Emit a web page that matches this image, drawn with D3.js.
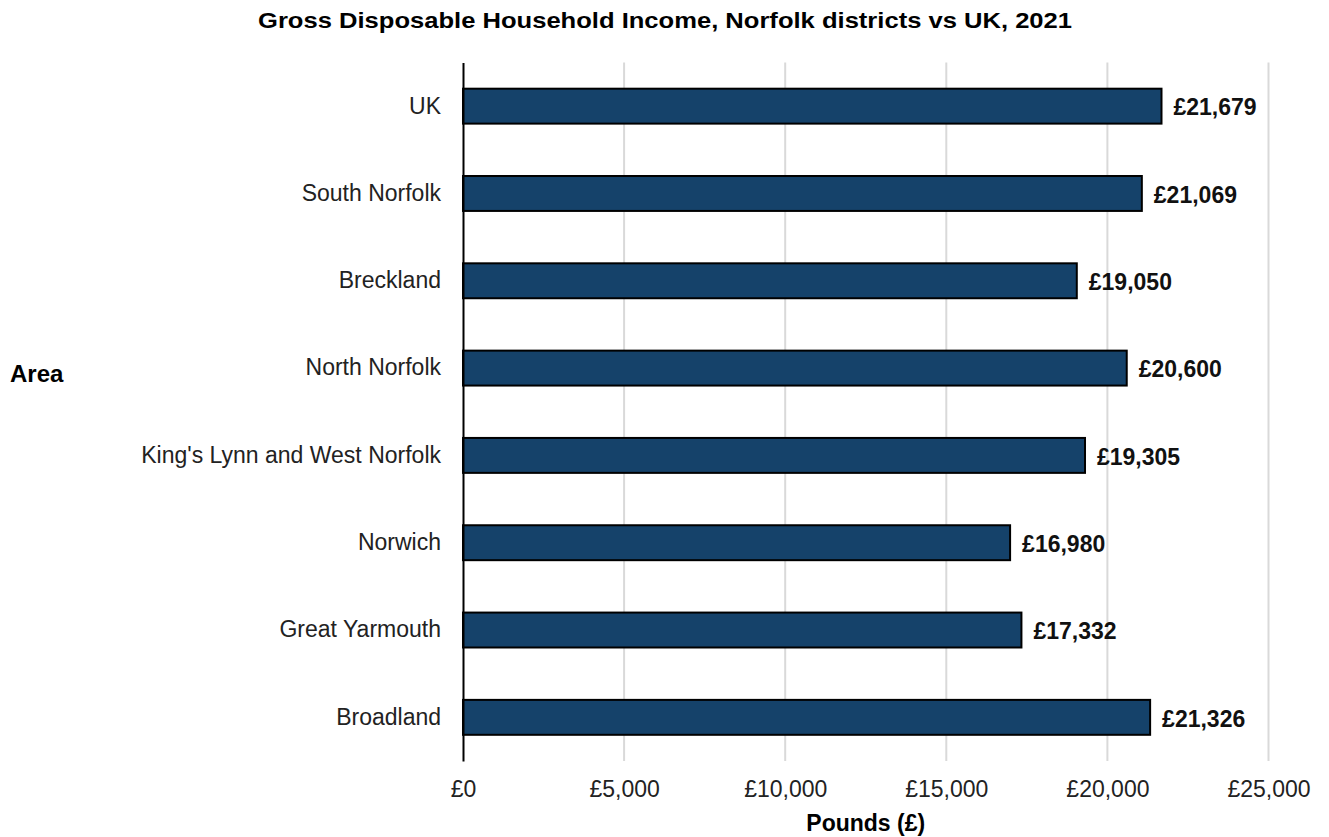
<!DOCTYPE html>
<html>
<head>
<meta charset="utf-8">
<script src="https://cdn.jsdelivr.net/npm/d3@7"></script>
<style>
  html, body { margin: 0; padding: 0; background: #fff; }
  svg { display: block; font-family: "Liberation Sans", Arial, sans-serif; }
</style>
</head>
<body>
<svg id="chart" width="1329" height="837"></svg>
<script>
// Gross Disposable Household Income per head, 2021
const areas = ["UK", "South Norfolk", "Breckland", "North Norfolk",
  "King's Lynn and West Norfolk", "Norwich", "Great Yarmouth", "Broadland"];
const income = [21679, 21069, 19050, 20600, 19305, 16980, 17332, 21326];
const xTicks = [0, 5000, 10000, 15000, 20000, 25000];

const svg = d3.select("#chart");
const plotLeft = 463, plotRight = 1268.5, plotTop = 62.5, plotBottom = 761;
const fontFamily = "Liberation Sans, Arial, sans-serif";
const labelSize = 23;

const x = d3.scaleLinear().domain([0, 25000]).range([plotLeft, plotRight]);
const y = d3.scaleBand().domain(areas).range([plotTop, plotBottom])
  .paddingInner(0.6).paddingOuter(0.3);

const fmt = v => "£" + d3.format(",")(v);

// Title
svg.append("text")
  .attr("x", 665).attr("y", 28)
  .attr("text-anchor", "middle")
  .attr("font-size", 22).attr("font-weight", "bold")
  .attr("textLength", 814).attr("lengthAdjust", "spacingAndGlyphs")
  .text("Gross Disposable Household Income, Norfolk districts vs UK, 2021");

// Vertical gridlines
svg.append("g")
  .selectAll("line")
  .data(xTicks.filter(d => d > 0))
  .join("line")
  .attr("x1", d => x(d)).attr("x2", d => x(d))
  .attr("y1", plotTop).attr("y2", plotBottom)
  .attr("stroke", "#d9d9d9").attr("stroke-width", 2);

// X axis tick labels
const xAxis = d3.axisBottom(x).tickValues(xTicks).tickFormat(fmt).tickSize(0).tickPadding(20);
const gx = svg.append("g").attr("transform", `translate(0,${plotBottom})`).call(xAxis);
gx.select(".domain").remove();
gx.selectAll("text").attr("font-size", labelSize).attr("fill", "#222")
  .attr("font-family", fontFamily);

// Bars
svg.append("g")
  .selectAll("rect")
  .data(areas)
  .join("rect")
  .attr("x", x(0))
  .attr("y", d => y(d))
  .attr("width", (d, i) => x(income[i]) - x(0))
  .attr("height", y.bandwidth())
  .attr("fill", "#15426a")
  .attr("stroke", "#000").attr("stroke-width", 2);

// Y axis line and labels
const yAxis = d3.axisLeft(y).tickSize(0).tickPadding(22);
const gy = svg.append("g").attr("transform", `translate(${plotLeft},0)`).call(yAxis);
gy.select(".domain").attr("stroke", "#000").attr("stroke-width", 2);
gy.selectAll("text").attr("font-size", labelSize).attr("fill", "#222")
  .attr("font-family", fontFamily);

// Value labels
svg.append("g")
  .selectAll("text")
  .data(areas)
  .join("text")
  .attr("x", (d, i) => x(income[i]) + 12)
  .attr("y", d => y(d) + y.bandwidth() / 2)
  .attr("dy", "0.4em")
  .attr("font-size", labelSize).attr("font-weight", "bold").attr("fill", "#111")
  .text((d, i) => fmt(income[i]));

// Axis titles
svg.append("text")
  .attr("x", (plotLeft + plotRight) / 2).attr("y", 831)
  .attr("text-anchor", "middle")
  .attr("font-size", labelSize).attr("font-weight", "bold")
  .text("Pounds (£)");

svg.append("text")
  .attr("x", 10).attr("y", 382)
  .attr("font-size", 24).attr("font-weight", "bold")
  .text("Area");
</script>
</body>
</html>
